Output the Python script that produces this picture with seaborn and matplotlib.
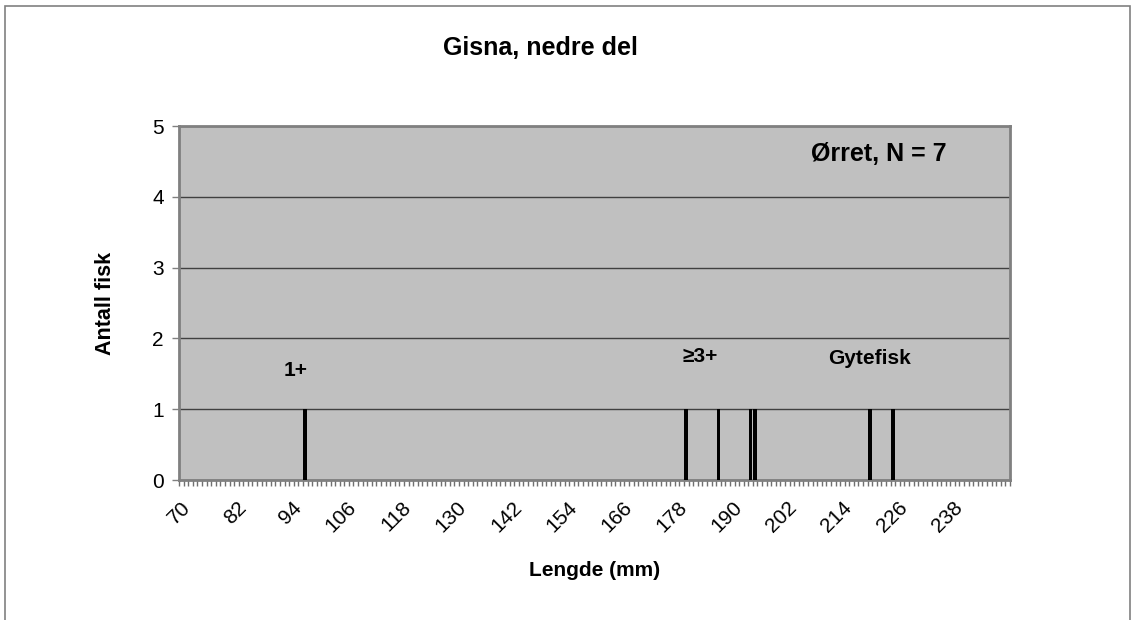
import numpy as np
import pandas as pd
import seaborn as sns
import matplotlib.pyplot as plt
from matplotlib.patches import Rectangle

# lengder (mm) for hver fisk
lengths = [97, 180, 187, 194, 195, 220, 225]
len_min, len_max = 70, 250
tick_labels = list(range(70, 250, 12))
group_labels = ["1+", "≥3+", "Gytefisk"]
group_x = [95, 183, 220]
group_y = [1.55, 1.74, 1.72]

plt.rcParams['font.family'] = ['Liberation Sans', 'DejaVu Sans']

df = pd.DataFrame({"Lengde": lengths})

fig = plt.figure(figsize=(11.31, 6.2), dpi=100)
ax = fig.add_axes([179 / 1131, 1 - 480 / 620, (1010 - 179) / 1131, (480 - 126) / 620])
ax.set_facecolor("#c0c0c0")

sns.histplot(data=df, x="Lengde", discrete=True, shrink=0.8, color="black",
             edgecolor="none", alpha=1, ax=ax, zorder=3)

ax.set_xlim(len_min - 0.5, len_max + 0.5)
ax.set_ylim(0, 5)
ax.set_yticks(range(0, 6))
ax.yaxis.grid(True, color="#404040", linewidth=1)
ax.set_axisbelow(True)

ax.set_xticks(tick_labels)
ax.set_xticklabels([str(t) for t in tick_labels], rotation=45, ha="right",
                   rotation_mode="anchor", fontsize=15)
ax.set_xticks(np.arange(len_min - 0.5, len_max + 1), minor=True)
ax.tick_params(axis="x", which="major", length=0, pad=13)
ax.tick_params(axis="x", which="minor", length=4, color="#707070", width=1)
ax.tick_params(axis="y", length=5, color="#808080", width=1, labelsize=15, pad=6)

for s in ax.spines.values():
    s.set_color("#808080")
    s.set_linewidth(2)

ax.set_xlabel("Lengde (mm)", fontsize=15, fontweight="bold", labelpad=18)
ax.set_ylabel("Antall fisk", fontsize=15.5, fontweight="bold", labelpad=26)

for lab, gx, gy in zip(group_labels, group_x, group_y):
    ax.text(gx, gy, lab, ha="center", va="center", fontsize=15, fontweight="bold")
ax.text(222, 4.6, "Ørret, N = 7", ha="center", va="center", fontsize=18, fontweight="bold")

fig.text(540 / 1131, 1 - 48 / 620, "Gisna, nedre del", ha="center", va="center",
         fontsize=18, fontweight="bold")

fig.patches.append(Rectangle((5 / 1131, -0.05), 1125 / 1131, 1.05 - 6 / 620,
                             transform=fig.transFigure, fill=False,
                             edgecolor="#808080", linewidth=1.2))

fig.savefig("out.png", dpi=100)
